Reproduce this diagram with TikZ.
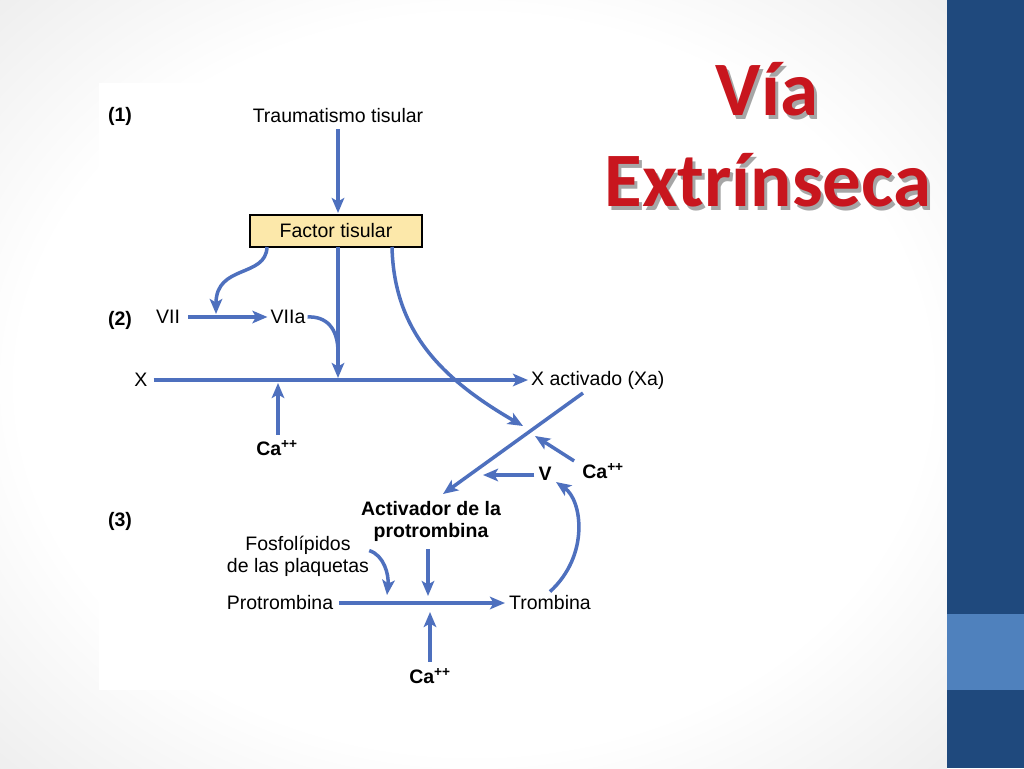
\documentclass[tikz,border=0pt]{standalone}
\usepackage{fontspec}
\setmainfont{Liberation Sans}
\newfontfamily\titlefont{Carlito}
\usetikzlibrary{arrows.meta,calc}
\definecolor{lineblue}{RGB}{78,112,190}
\definecolor{boxyellow}{RGB}{252,232,170}
\definecolor{bardark}{RGB}{31,73,125}
\definecolor{barlight}{RGB}{79,129,189}
\definecolor{titlered}{RGB}{200,22,30}
\pgfdeclareradialshading{slidebg}{\pgfpointorigin}{color(0bp)=(white); color(24bp)=(white); color(38bp)=(black!8); color(50bp)=(black!15)}
\tikzset{
  lbl/.style={inner sep=0pt, font=\fontsize{19.5}{22}\selectfont},
  blbl/.style={lbl, font=\fontsize{19.5}{22}\selectfont\bfseries},
  flow/.style={line width=3.5pt, color=lineblue},
  arr/.style={flow, -{Stealth[length=15pt,width=12.5pt,inset=3.5pt]}},
  titlestyle/.style={inner sep=0pt, anchor=base, font=\titlefont\bfseries\fontsize{77}{77}\selectfont}
}
\newcommand\slidetitle[3]{%
  \node[titlestyle, text=black!35] (#1-s) at ($(#2)+(3,4)$) {#3};
  \node[titlestyle, text=titlered] (#1) at (#2) {#3};
}

\begin{document}
\begin{tikzpicture}[x=1pt, y=-1pt]
			%%%%% SLIDE %%%%%
			\useasboundingbox (0,0) rectangle (1024,768);
			\shade[shading=slidebg] (0,0) rectangle (947,768);
			\fill[bardark] (947,0) rectangle (1024,768);
			\fill[barlight] (947,614) rectangle (1024,690);
			\fill[white] (99,83) rectangle (668,690);
			
			\slidetitle{via}{767,115}{Vía}
			\slidetitle{extr}{768,206}{Extrínseca}
			
			%%%%% START %%%%%
			
			\node[blbl] (s1) at (120,116) {(1)};
			\node[blbl] (s2) at (120,320) {(2)};
			\node[blbl] (s3) at (120,521) {(3)};
			
			\node[lbl] (trauma) at (338,116) {Traumatismo tisular};
			\node[lbl, draw=black, line width=1.4pt, fill=boxyellow, minimum width=172pt, minimum height=32pt] (ftis) at (336,231) {Factor tisular};
			\draw[arr] (trauma.south) ++(0,6) -- (338,213);
			
			\node[lbl] (vii) at (168,317) {VII};
			\node[lbl] (viia) at (288,317) {VIIa};
			\draw[arr] (vii.east) ++(8,0) -- ($(viia.west)+(-3,0)$);
			\coordinate (ft1) at (267,247);
			\draw[arr] (ft1) .. controls (266,278) and (216,264) .. (216,314);
			
			\coordinate (ft2) at (338,247);
			\draw[arr] (ft2) -- (338,378);
			\draw[flow] (viia.east) ++(2,0) .. controls (326,316) and (338,328) .. (338,352);
			
			\node[lbl] (x) at (141,380) {X};
			\node[lbl, anchor=west] (xa) at (531,380) {X activado (Xa)};
			\draw[arr] (x.east) ++(6,0) -- ($(xa.west)+(-3,0)$);
			
			\node[blbl] (ca1) at (277,448) {Ca\textsuperscript{++}};
			\draw[arr] (ca1.north) ++(1,-5) -- (278,383);
			
			\coordinate (ft3) at (392,247);
			\draw[arr] (ft3) .. controls (394,330) and (440,378) .. (523,426);
			
			\coordinate (xa1) at (583,393);
			\draw[arr] (xa1) -- (443,494);
			
			\node[blbl] (ca2) at (603,471) {Ca\textsuperscript{++}};
			\draw[arr] (ca2.north west) ++(-8,-2) -- (535,436);
			
			\node[blbl] (v) at (545,474) {V};
			\draw[arr] (v.west) ++(-4,1) -- (483,475);
			
			\node[blbl, align=center] (act) at (431,521) {Activador de la\\protrombina};
			\node[lbl, align=center] (fosfo) at (298,556) {Fosfolípidos\\de las plaquetas};
			
			\node[lbl] (pro) at (280,603) {Protrombina};
			\node[lbl] (trom) at (550,603) {Trombina};
			\draw[arr] (pro.east) ++(6,0) -- ($(trom.west)+(-4,0)$);
			
			\draw[arr] (act.south) ++(-3,8) -- (428,596);
			\draw[arr] (fosfo.north east) ++(0,15) .. controls (384,555) and (389,575) .. (387,595);
			\draw[arr] (trom.north) ++(0,-4) .. controls (590,555) and (582,500) .. (556,482);
			
			\node[blbl] (ca3) at (430,676) {Ca\textsuperscript{++}};
			\draw[arr] (ca3.north) ++(0,-6) -- (430,612);
			
			%%%%% END %%%%%
\end{tikzpicture}
\end{document}
